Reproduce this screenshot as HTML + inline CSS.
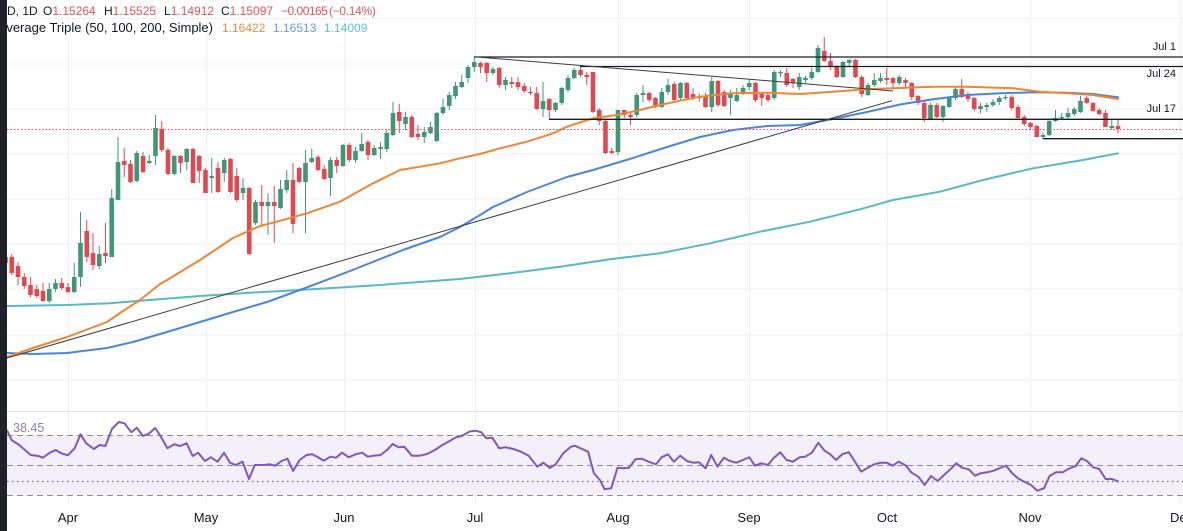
<!DOCTYPE html>
<html><head><meta charset="utf-8">
<style>
html,body{margin:0;padding:0;background:#fff;}
body{width:1183px;height:531px;overflow:hidden;position:relative;font-family:"Liberation Sans",sans-serif;color:#131722;}
#bar{position:absolute;left:0;top:0;width:7px;height:531px;background:#1e2129;z-index:5}
.t{position:absolute;white-space:nowrap;font-size:12px;line-height:14px;z-index:3}
.r{color:#e0525e}
.mo{position:absolute;top:510px;font-size:13px;line-height:15px;white-space:nowrap;transform:translateX(-50%);color:#131722}
.lb{position:absolute;font-size:11px;line-height:13px;white-space:nowrap;color:#131722}
svg{position:absolute;left:0;top:0}
</style></head><body>
<svg id="s" width="1183" height="531" xmlns="http://www.w3.org/2000/svg">
 <g stroke="#eff1f5" stroke-width="1" fill="none">
  <line x1="7" y1="18.5" x2="1183" y2="18.5"/>
  <line x1="7" y1="64" x2="1183" y2="64"/>
  <line x1="7" y1="109" x2="1183" y2="109"/>
  <line x1="7" y1="154" x2="1183" y2="154"/>
  <line x1="7" y1="199" x2="1183" y2="199"/>
  <line x1="7" y1="244" x2="1183" y2="244"/>
  <line x1="7" y1="289" x2="1183" y2="289"/>
  <line x1="7" y1="335" x2="1183" y2="335"/>
  <line x1="7" y1="380" x2="1183" y2="380"/>
  <line x1="68.5" y1="0" x2="68.5" y2="503"/>
  <line x1="206.5" y1="0" x2="206.5" y2="503"/>
  <line x1="344.5" y1="0" x2="344.5" y2="503"/>
  <line x1="475.5" y1="0" x2="475.5" y2="503"/>
  <line x1="618.5" y1="0" x2="618.5" y2="503"/>
  <line x1="749.5" y1="0" x2="749.5" y2="503"/>
  <line x1="887.5" y1="0" x2="887.5" y2="503"/>
  <line x1="1030.5" y1="0" x2="1030.5" y2="503"/>
  <line x1="1180.5" y1="0" x2="1180.5" y2="503"/>
 </g>
 <!-- RSI pane -->
 <line x1="7" y1="411.5" x2="1183" y2="411.5" stroke="#e3e5ea" stroke-width="1"/>
 <rect x="7" y="435" width="1176" height="60" fill="#f3f0fa"/>
 <g stroke="#8a8d99" stroke-width="1" stroke-dasharray="6,4" fill="none">
  <line x1="7" y1="435.5" x2="1183" y2="435.5"/>
  <line x1="7" y1="465.5" x2="1183" y2="465.5"/>
  <line x1="7" y1="495.5" x2="1183" y2="495.5"/>
 </g>
 <line x1="7" y1="481.5" x2="1183" y2="481.5" stroke="#6e6a9a" stroke-width="1.3" stroke-dasharray="1.5,3.5"/>
 <g id="cdl"></g>
 <g fill="none" stroke-linejoin="round" stroke-linecap="round">
  <polyline stroke="#58b8c9" stroke-width="2" points="7,306 67,305 110,303.3 140,300.7 200,296 250,292.7 300,290 380,285 460,279 510,273.3 560,266.7 610,259.3 660,253.3 710,243.3 760,231.7 810,221.7 860,209.3 893,200 940,191.7 983,180 1033,168.3 1083,160 1118,153.3"/>
  <polyline stroke="#4a87d8" stroke-width="2" points="7,353 33,354 67,353 107,348 133,342 167,332 200,322 233,312 267,302 300,290 350,271 403,250 440,237 460,227 480,215 493,207 527,192 567,177 593,170 633,158 667,147 700,137 733,130 767,126 800,125 833,119 867,112 900,104.5 933,99.3 967,95 1000,93.3 1033,92.3 1067,92.7 1093,94 1118,97.3"/>
  <polyline stroke="#ee8634" stroke-width="2" points="7,357 33,348 67,337 107,322 120,313 140,300 160,284 167,280 200,260 233,238 260,226 273,222.7 307,213.3 340,201.7 373,183.3 400,170 420,166.7 440,163.3 460,158.3 480,154 500,148.3 527,141.7 553,133.3 567,126.7 593,118.3 617,115 640,110 660,105 680,100.7 700,96.7 733,93.3 767,92.7 800,94 833,91.7 867,89.3 900,88 933,86.7 967,86.7 1013,88.3 1040,91.7 1067,93.3 1093,95 1118,99"/>
 </g>
 <!-- drawings -->
 <line x1="7" y1="129.5" x2="1183" y2="129.5" stroke="#e5505c" stroke-width="1" stroke-dasharray="1.5,2"/>
 <g stroke="#1b1d24" stroke-width="1.3">
  <line x1="474" y1="57" x2="1183" y2="57"/>
  <line x1="580" y1="66.5" x2="1183" y2="66.5"/>
  <line x1="549" y1="119.3" x2="1183" y2="119.3"/>
  <line x1="1043" y1="138.7" x2="1183" y2="138.7"/>
 </g>
 <g stroke="#3a3c44" stroke-width="1">
  <line x1="474" y1="56.7" x2="893" y2="91"/>
  <line x1="7" y1="358" x2="892" y2="100.7"/>
 </g>
 <polyline id="rsi" fill="none" stroke="#7e57c2" stroke-width="2" stroke-linejoin="round" points=""/>
</svg>
<div id="bar"></div>
<div class="t" style="left:7px;top:4px">D, 1D</div>
<div class="t" style="left:43px;top:4px">O<span class="r">1.15264</span></div>
<div class="t" style="left:104px;top:4px">H<span class="r">1.15525</span></div>
<div class="t" style="left:164px;top:4px">L<span class="r">1.14912</span></div>
<div class="t" style="left:221px;top:4px">C<span class="r">1.15097</span></div>
<div class="t r" style="left:281px;top:4px;letter-spacing:-0.5px">−0.00165</div>
<div class="t r" style="left:329px;top:4px;letter-spacing:-0.3px">(−0.14%)</div>
<div class="t" style="right:970px;top:21px;font-size:13px">Average Triple (50, 100, 200, Simple)</div>
<div class="t" style="left:222px;top:21px;color:#ef8a3c">1.16422</div>
<div class="t" style="left:273px;top:21px;color:#6a9de0">1.16513</div>
<div class="t" style="left:324px;top:21px;color:#5ec2d4">1.14009</div>
<div class="lb" style="right:7px;top:41px">Jul 1</div>
<div class="lb" style="right:7px;top:68px">Jul 24</div>
<div class="lb" style="right:7px;top:103px">Jul 17</div>
<div class="t" style="left:13px;top:421px;color:#8c7cc4;font-size:12.5px">38.45</div>
<div class="mo" style="left:68px">Apr</div>
<div class="mo" style="left:206px">May</div>
<div class="mo" style="left:344px">Jun</div>
<div class="mo" style="left:475px">Jul</div>
<div class="mo" style="left:618px">Aug</div>
<div class="mo" style="left:749px">Sep</div>
<div class="mo" style="left:887px">Oct</div>
<div class="mo" style="left:1030px">Nov</div>
<div class="mo" style="left:1170px;transform:none">Dec</div>
<script>
var D=[
['r',257,263,252,265],['r',257,273,254,275],['r',266,277,262,285],['r',277,286,273,289],['r',285,295,277,297],
['r',289,296,285,298],['r',291,301,283,302],['g',289,301,283,303],['g',283,289,279,292],['r',283,288,278,290],
['r',287,292,283,293],['g',277,292,263,293],['g',243,277,212,287],['r',231,257,220,262],['r',253,265,233,270],
['g',254,266,246,269],['r',253,256,223,263],['g',198,257,189,257],['g',162,200,137,200],['r',161,165,148,177],
['r',164,182,160,183],['g',153,181,151,182],['r',156,172,152,173],['g',161,163,155,164],['g',128,156,115,165],
['r',129,150,121,152],['r',150,174,148,175],['g',156,174,155,175],['r',156,163,155,173],['g',149,162,148,170],
['r',149,183,148,183],['r',156,171,155,183],['r',170,193,168,193],['g',176,178,158,193],['r',168,192,162,193],
['g',160,173,158,182],['r',159,192,158,193],['r',176,200,168,202],['g',188,193,178,200],['r',188,254,187,255],
['g',202,223,200,225],['r',202,206,185,227],['g',202,206,193,235],['r',202,206,186,243],['g',189,208,180,209],
['g',180,190,170,193],['r',180,224,163,233],['r',168,182,167,183],['g',163,182,150,233],['g',158,162,149,163],
['r',157,170,155,171],['r',169,179,165,180],['g',160,178,157,196],['r',160,166,157,173],['g',145,166,144,167],
['r',145,160,143,162],['g',151,160,147,163],['g',144,151,133,152],['r',142,155,140,160],['g',148,155,145,156],
['g',147,149,142,159],['g',133,149,130,152],['g',113,135,102,136],['r',112,121,104,133],['g',117,124,112,130],
['r',117,137,115,138],['r',134,137,125,140],['g',132,137,127,143],['g',127,133,122,134],['g',113,141,112,142],
['g',107,113,99,115],['g',95,106,92,110],['g',86,96,82,99],['g',82,87,75,88],['g',67,78,65,83],
['g',62,67,57,72],['r',63,67,62,73],['r',63,73,62,82],['g',69,73,67,75],['r',68,85,67,88],
['g',80,85,77,90],['r',82,84,77,88],['r',82,87,77,90],['r',86,91,83,93],['r',92,93,87,95],
['r',93,109,87,110],['g',101,109,82,117],['r',99,110,98,119],['g',103,110,102,112],['g',88,103,87,105],
['g',78,90,75,92],['g',70,78,68,79],['r',70,75,65,77],['r',75,77,72,85],['r',72,112,72,113],
['r',110,121,108,125],['r',121,153,120,154],['r',151,153,148,154],['g',110,152,110,155],['r',110,115,110,118],
['r',115,117,113,125],['g',95,115,93,117],['g',93,95,85,102],['r',93,100,92,102],['r',98,107,97,108],
['g',92,107,88,108],['g',85,92,79,95],['r',84,100,82,102],['g',83,98,82,100],['r',83,98,82,100],
['r',94,98,88,100],['g',97,98,93,102],['r',97,107,93,108],['g',81,107,77,112],['r',81,105,80,107],
['r',92,106,90,107],['g',93,98,90,115],['g',95,101,88,102],['g',88,94,85,95],['g',83,87,79,90],
['r',83,100,82,102],['r',94,98,92,106],['r',95,100,93,102],['g',72,98,70,100],['g',72,73,70,77],
['r',73,85,68,87],['r',79,83,78,88],['g',77,87,73,90],['g',78,80,76,83],['g',72,78,68,80],
['g',48,72,45,73],['r',51,61,37,62],['r',61,67,53,70],['r',67,77,65,78],['g',62,77,61,78],
['g',60,63,59,67],['r',60,77,59,78],['r',77,94,75,97],['g',85,95,83,96],['g',80,85,73,87],
['g',78,81,73,83],['r',78,80,68,85],['r',78,83,77,88],['g',77,83,75,85],['r',80,83,78,87],
['r',83,97,82,100],['r',96,103,95,105],['r',103,118,100,122],['g',105,119,103,120],['r',105,117,103,118],
['g',106,117,105,122],['g',98,107,97,108],['g',89,98,87,100],['r',89,97,79,98],['r',94,99,92,102],
['r',98,109,97,111],['g',106,109,103,113],['g',105,107,103,112],['g',102,105,99,107],['g',98,102,96,105],
['g',97,98,95,100],['r',97,108,95,110],['r',107,118,105,120],['r',117,124,115,126],['r',123,127,122,130],
['r',126,137,125,137],['g',135,137,133,139],['g',121,135,119,136],['g',118,121,110,122],['g',117,118,113,120],
['g',113,117,108,119],['g',109,114,107,116],['g',101,112,96,113],['r',98,103,96,104],['r',103,111,102,112],
['r',110,114,108,115],['r',113,127,110,127],['g',126,128,120,130],['r',126,129,120,133]
];
var g=document.getElementById('cdl'),h='';
for(var k=0;k<D.length;k++){
 var i=k-10,x=68+i*6.25,d=D[k],col=d[0]=='g'?'#3f9678':'#e24850';
 var t=d[1],b=d[2];if(b-t<1.2){b=t+1.2;}
 h+='<line x1="'+x+'" y1="'+d[3]+'" x2="'+x+'" y2="'+d[4]+'" stroke="'+col+'" stroke-width="1"/>';
 h+='<rect x="'+(x-2.3)+'" y="'+t+'" width="4.6" height="'+(b-t)+'" fill="'+col+'"/>';
}
g.innerHTML=h;
var R="6.9,430 11.5,440 19.2,445 30.7,455 38.3,456 42.9,457.7 49.8,452.7 55.6,450 61.3,453.3 67.8,455.3 74.7,448.3 80.5,434.3 86.2,443.3 93.9,449 99.6,445 105.4,446 111.9,429 118.8,422 124.5,423.3 131.4,432.3 136.8,427.7 142.9,436 149.4,433.3 155.2,428 160.9,436.7 167.4,448.3 174.3,444.3 180.1,446 186.6,443.3 192.7,456 198.1,452.7 205,461 210.7,457.3 217.6,461.7 224.1,452.7 229.9,462.7 235.6,465 242.5,461.7 249,479 254.8,465 264.4,465 270.1,464.3 275.1,465.7 281.6,461 287.4,458.7 293.1,471 299.6,460 306.5,455 312.3,454.3 318,457.3 323.8,460.7 330.3,456.7 336,457.7 342.1,452.7 348.7,457.3 355.6,454.3 362.1,452.7 367.8,456.7 373.6,455.7 380.5,455 387,450 392.7,444 398.5,447.3 404.2,446.7 411.9,455.7 419.5,455.7 427.2,454 434.9,450 442.5,445 450.2,440.7 455.9,437.3 461.7,436 469.3,431.7 475.1,430.7 480.8,432 486.6,438.3 492.3,437.7 499.2,448.3 505.7,447.3 513.4,449 521.1,451.7 528.7,455.7 537.2,466.7 543.3,462.7 549.8,468 555.6,464.3 563.2,453.3 570.9,446.7 574.7,445.7 580.5,448.3 588.1,451.7 593.9,473.3 600,480 604.5,489.3 611.2,488.3 617.5,467.7 623.1,468.3 629.1,467.7 635.4,459.3 641.8,458.7 648.5,461.7 656,464.3 661.6,457.3 667.9,454.3 673.9,461.7 680.2,455.7 686.9,461 693.3,462.7 698.9,462.3 705.6,468.3 711.2,455 717.5,466.7 723.9,457.7 729.9,461 736.2,462.7 742.9,460 749.3,457.3 754.9,465.7 761.2,463.3 767.9,465 773.5,458.3 780.2,452.3 786.6,460 792.9,461.7 799.6,457.3 805.2,456.7 811.9,452.7 818.3,442.7 824.6,450.7 830.2,454.3 836.2,460 842.5,454 848.9,452.3 854.9,461.7 861.2,471.7 867.9,467.7 874.3,464.3 880.6,462.7 886.6,462.7 892.9,465.7 898.5,461.7 905.2,465 911.6,472.7 918.3,476.7 924.6,485 931,476 937.7,481 944,475 950.7,469 956.3,463.3 961.9,467.7 968.7,469.3 975,475.7 980.6,473.3 987.3,472.3 993.7,470.7 999.3,468.3 1006,465.7 1012.3,473.3 1017.9,478.3 1024.3,481.7 1031,485 1037.3,490.7 1044,488.3 1049.6,476 1056,472.3 1062.7,472.3 1069.4,468.3 1075.7,466 1081.3,458.3 1087,461 1093.3,467.3 1099.3,469 1105.6,479 1112,479 1118.7,481.7";
document.getElementById('rsi').setAttribute('points',R);
</script>
</body></html>
